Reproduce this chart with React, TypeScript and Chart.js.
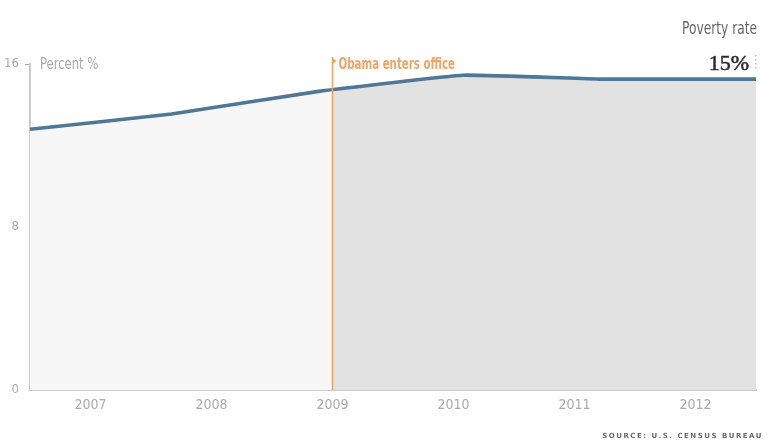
import React, { useEffect, useRef } from "react";
import { Chart, registerables } from "chart.js";

Chart.register(...registerables);

// Tick labels (years) and y ticks
const yearLabels = [2007, 2008, 2009, 2010, 2011, 2012];
const yTicks = [0, 8, 16];
// Poverty rate line (x positions in years, values in percent)
const pointYears = [2006.5, 2007.67, 2008.9, 2010.08, 2011.21, 2012.5];
const povertyRate = [12.8, 13.55, 14.67, 15.45, 15.26, 15.26];
const obamaYear = 2009;
const currentRateLabel = "15%";

const NARROW = "'Liberation Sans Narrow', 'DejaVu Sans Condensed', 'Arial Narrow', sans-serif";
const SERIF = "'Liberation Serif', 'DejaVu Serif', serif";

function narrowText(ctx: CanvasRenderingContext2D, text: string, x: number, y: number, sx: number, align: "left" | "right") {
  ctx.save();
  ctx.translate(x, y);
  ctx.scale(sx, 1);
  ctx.textAlign = align;
  ctx.fillText(text, 0, 0);
  ctx.restore();
}

export default function App() {
  const ref = useRef<HTMLCanvasElement | null>(null);

  useEffect(() => {
    document.body.style.margin = "0";
    const canvas = ref.current!;
    const annot = {
      id: "annot",
      afterDatasetsDraw(chart: any) {
        const ctx = chart.ctx as CanvasRenderingContext2D;
        const { chartArea } = chart;
        const x = chart.scales.x.getPixelForValue(obamaYear);
        const y16 = chart.scales.y.getPixelForValue(16);
        ctx.save();
        // Obama line
        ctx.strokeStyle = "#f0a25e";
        ctx.lineWidth = 1.5;
        ctx.beginPath();
        ctx.moveTo(x, y16 - 7);
        ctx.lineTo(x, chartArea.bottom);
        ctx.stroke();
        ctx.fillStyle = "#f0a25e";
        ctx.beginPath();
        ctx.moveTo(x, y16 - 6);
        ctx.lineTo(x + 4, y16 - 3);
        ctx.lineTo(x, y16);
        ctx.closePath();
        ctx.fill();
        ctx.textBaseline = "alphabetic";
        ctx.font = `bold 15px ${NARROW}`;
        ctx.fillStyle = "#f2a466";
        narrowText(ctx, "Obama enters office", x + 6, y16 + 5, 0.76, "left");
        // Percent label
        ctx.font = `15px ${NARROW}`;
        ctx.fillStyle = "#aaaaaa";
        narrowText(ctx, "Percent %", chartArea.left + 10, y16 + 5, 0.86, "left");
        // Poverty rate title
        ctx.fillStyle = "#666666";
        ctx.font = `17px ${NARROW}`;
        narrowText(ctx, "Poverty rate", 757, 34, 0.8, "right");
        ctx.fillStyle = "#2a2a2a";
        ctx.strokeStyle = "#2a2a2a";
        ctx.lineWidth = 0.5;
        ctx.font = `22px ${SERIF}`;
        ctx.textAlign = "right";
        ctx.fillText(currentRateLabel, 749, 70);
        ctx.strokeText(currentRateLabel, 749, 70);
        // dotted marker
        ctx.fillStyle = "#bbbbbb";
        for (let yy = 55; yy <= 69; yy += 4) {
          ctx.fillRect(755, yy, 1.5, 1.5);
        }
        // source
        ctx.fillStyle = "#6a6a6a";
        ctx.font = `bold 7px 'DejaVu Sans', sans-serif`;
        ctx.textAlign = "right";
        (ctx as any).letterSpacing = "1.5px";
        ctx.fillText("SOURCE: U.S. CENSUS BUREAU", 763, 438);
        (ctx as any).letterSpacing = "0px";
        ctx.restore();
      },
    };

    const chart = new Chart(canvas, {
      type: "line",
      data: {
        datasets: [
          {
            data: pointYears.map((x, i) => ({ x, y: povertyRate[i] })),
            borderColor: "#4f7796",
            borderWidth: 3.6,
            borderJoinStyle: "round",
            borderCapStyle: "butt",
            tension: 0.1,
            pointRadius: 0,
            fill: "origin",
            backgroundColor: (c: any) => {
              const ch = c.chart;
              const area = ch.chartArea;
              if (!area || !ch.scales.x) return "#f6f6f6";
              const px = ch.scales.x.getPixelForValue(obamaYear);
              const g = ch.ctx.createLinearGradient(area.left, 0, area.right, 0);
              const t = Math.min(1, Math.max(0, (px - area.left) / (area.right - area.left)));
              g.addColorStop(0, "#f7f7f7");
              g.addColorStop(t, "#f7f7f7");
              g.addColorStop(t, "#e2e2e2");
              g.addColorStop(1, "#e2e2e2");
              return g;
            },
          },
        ],
      },
      options: {
        animation: false,
        responsive: false,
        layout: { padding: { top: 64, right: 14, left: 0, bottom: 0 } },
        plugins: { legend: { display: false }, tooltip: { enabled: false } },
        scales: {
          x: {
            type: "linear",
            min: 2006.5,
            max: 2012.5,
            afterBuildTicks: (s: any) => {
              s.ticks = yearLabels.map((v) => ({ value: v }));
            },
            afterFit: (s: any) => {
              s.height = 53;
            },
            ticks: {
              color: "#aaaaaa",
              font: { family: NARROW, size: 14 },
              padding: 7,
              callback: (v: any) => String(v),
              maxRotation: 0,
              autoSkip: false,
            },
            grid: { display: false, drawTicks: false },
            border: { display: true, color: "#cccccc", width: 2 },
          },
          y: {
            min: 0,
            max: 16,
            afterBuildTicks: (s: any) => {
              s.ticks = yTicks.map((v) => ({ value: v }));
            },
            afterFit: (s: any) => {
              s.width = 30;
            },
            ticks: {
              color: "#aaaaaa",
              font: { family: NARROW, size: 13 },
              padding: 6,
            },
            grid: {
              display: true,
              drawOnChartArea: false,
              drawTicks: true,
              tickLength: 5,
              tickColor: (c: any) => (c.tick && c.tick.value === 16 ? "#aaaaaa" : "rgba(0,0,0,0)"),
              lineWidth: 1,
            },
            border: { display: true, color: "#cccccc", width: 2 },
          },
        },
      },
      plugins: [annot],
    } as any);
    return () => chart.destroy();
  }, []);

  return (
    <div style={{ position: "absolute", left: 0, top: 0, width: 770, height: 443, background: "#fff" }}>
      <canvas ref={ref} width={770} height={443} style={{ width: 770, height: 443 }} />
    </div>
  );
}
